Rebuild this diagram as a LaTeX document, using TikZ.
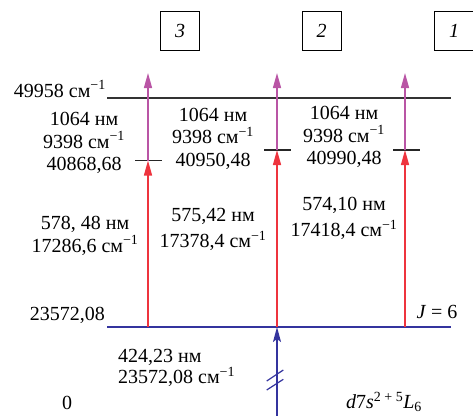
\documentclass[tikz,border=0pt]{standalone}
\usepackage{fontspec}
\setmainfont{Liberation Serif}
\usetikzlibrary{arrows.meta}
\definecolor{irviolet}{RGB}{185,85,165}
\definecolor{visred}{RGB}{238,52,62}
\definecolor{uvblue}{RGB}{52,52,158}
\newcommand{\invcm}{см\textsuperscript{−1}}

\begin{document}
\begin{tikzpicture}[x=1pt,y=-1pt,
        every node/.style={font=\fontsize{20}{22.5}\selectfont,inner sep=0pt},
        numbox/.style={draw,line width=1pt,minimum width=39pt,minimum height=39pt,font=\fontsize{20}{24}\selectfont\itshape},
        level/.style={line width=1.2pt},
        sublevel/.style={line width=1.2pt,black!85},
        irarrow/.style={irviolet,line width=1.4pt,-{Triangle[length=15pt,width=8pt]}},
        visarrow/.style={visred,line width=1.4pt,-{Triangle[length=15pt,width=8pt]}},
        uvarrow/.style={uvblue,line width=1.4pt,-{Stealth[length=15pt,width=8pt,inset=3pt]}}]
    \useasboundingbox (0,0) rectangle (473,415);
    % Boxes
        \node[numbox] (box3) at (180,31) {3};
        \node[numbox] (box2) at (321.5,31) {2};
        \node[numbox] (box1) at (454,31) {1};
    % Levels
        \coordinate (topL) at (107,98);
        \coordinate (topR) at (451,98);
        \coordinate (lowL) at (107,327);
        \coordinate (lowR) at (451,327);
        \draw[level,black!80] (topL) -- (topR);
        \draw[level,uvblue] (lowL) -- (lowR);
        \node[anchor=east] (eion) at (106,89) {49958 \invcm};
        \node[anchor=east] (elow) at (105,315) {23572,08};
        \node[] (jval) at (437,312) {\textit{J} = 6};
        \node[] (ezero) at (67,403) {0};
        \node[] (term) at (384,402) {\textit{d}7\textit{s}\textsuperscript{2 + 5}\textit{L}\textsubscript{6}};
    % Column 3
        \coordinate (g3) at (148,327);
        \coordinate (m3) at (148,160.5);
        \coordinate (t3) at (148,73);
        \draw[sublevel] (135,160.5) -- (162,160.5);
        \draw[visarrow] (g3) -- (m3);
        \draw[irarrow] (m3) -- (t3);
        \node[align=center] (ir3) at (84,143) {1064 нм\\9398 \invcm\\40868,68};
        \node[align=center] (vis3) at (85,236) {578, 48 нм\\17286,6 \invcm};
    % Column 2
        \coordinate (g2) at (277,327);
        \coordinate (m2) at (277,150);
        \coordinate (t2) at (277,73);
        \draw[sublevel] (264,150) -- (291,150);
        \draw[visarrow] (g2) -- (m2);
        \draw[irarrow] (m2) -- (t2);
        \node[align=center] (ir2) at (213,138.5) {1064 нм\\9398 \invcm\\40950,48};
        \node[align=center] (vis2) at (213,229.5) {575,42 нм\\[4pt]17378,4 \invcm};
    % Column 1
        \coordinate (g1) at (405,327);
        \coordinate (m1) at (405,150);
        \coordinate (t1) at (405,73);
        \draw[sublevel] (393,150) -- (420,150);
        \draw[visarrow] (g1) -- (m1);
        \draw[irarrow] (m1) -- (t1);
        \node[align=center] (ir1) at (344,137) {1064 нм\\9398 \invcm\\40990,48};
        \node[align=center] (vis1) at (344,218.5) {574,10 нм\\[4pt]17418,4 \invcm};
    % First step from the ground state
        \coordinate (uv0) at (277,416);
        \draw[uvarrow] (uv0) -- (g2);
        \draw[uvblue,line width=1.2pt] (266.7,381) -- (283.3,370);
        \draw[uvblue,line width=1.2pt] (266.7,390) -- (283.3,379.3);
        \node[anchor=west,align=left] (uvlabel) at (118,368) {424,23 нм\\[-1pt]23572,08 \invcm};
\end{tikzpicture}
\end{document}
